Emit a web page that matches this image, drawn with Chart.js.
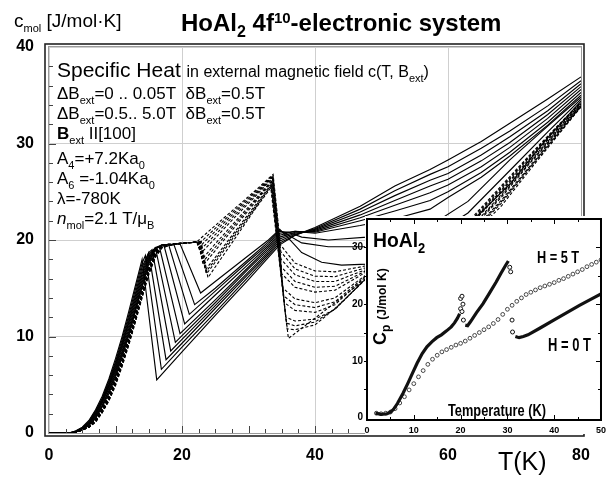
<!DOCTYPE html>
<html><head><meta charset="utf-8">
<script src="https://cdn.jsdelivr.net/npm/chart.js@4.4.1/dist/chart.umd.min.js"></script>
<style>
html,body{margin:0;padding:0;background:#fff;}
#wrap{position:relative;width:611px;height:477px;overflow:hidden;font-family:"Liberation Sans",Arial,Helvetica,sans-serif;color:#000;}
#main{position:absolute;left:0;top:0;}
#insetBox{position:absolute;left:330px;top:205px;width:281px;height:245px;}
.t{position:absolute;white-space:nowrap;line-height:1;}
.s{position:relative;top:5px;font-size:11px;}
.b{font-weight:bold;}
.cond{transform-origin:left top;}
</style></head>
<body><div id="wrap">
<canvas id="main" width="611" height="477"></canvas>

<div class="t" style="left:14px;top:11px;font-size:19px">c<span class="s" style="font-size:11px;top:5px">mol</span> [J/mol·K]</div>
<div class="t b" style="left:181px;top:11px;font-size:24px">HoAl<span style="font-size:16px;position:relative;top:6px">2</span> 4f<span style="font-size:15px;position:relative;top:-8px">10</span>-electronic system</div>

<div class="t" style="left:57px;top:59px;font-size:21px">Specific Heat <span style="font-size:16px">in external magnetic field c(T, B<span class="s">ext</span>)</span></div>
<div class="t" style="left:57px;top:85px;font-size:17px">ΔB<span class="s">ext</span>=0 .. 0.05T&nbsp; δB<span class="s">ext</span>=0.5T</div>
<div class="t" style="left:57px;top:105px;font-size:17px">ΔB<span class="s">ext</span>=0.5.. 5.0T&nbsp; δB<span class="s">ext</span>=0.5T</div>
<div class="t" style="left:57px;top:125px;font-size:17px"><b>B</b><span class="s">ext</span> II[100]</div>
<div class="t" style="left:57px;top:150px;font-size:17px">A<span class="s">4</span>=+7.2Ka<span class="s">0</span></div>
<div class="t" style="left:57px;top:170px;font-size:17px">A<span class="s">6</span> =-1.04Ka<span class="s">0</span></div>
<div class="t" style="left:57px;top:190px;font-size:17px">λ=-780K</div>
<div class="t" style="left:57px;top:210px;font-size:17px"><i>n</i><span class="s">mol</span>=2.1 T/μ<span class="s">B</span></div>
<div class="t" style="left:498px;top:449px;font-size:25px">T(K)</div>

<div id="insetBox"><canvas id="inset" width="281" height="245"></canvas></div>
<div class="t b cond" style="left:373px;top:229px;font-size:21px;transform:scaleX(0.92)">HoAl<span style="font-size:14px;position:relative;top:6px">2</span></div>
<div class="t b cond" style="left:537px;top:249px;font-size:17px;transform:scaleX(0.75)">H = 5 T</div>
<div class="t b cond" style="left:548px;top:336px;font-size:18px;transform:scaleX(0.72)">H = 0 T</div>
<div class="t b cond" style="left:448px;top:403px;font-size:16px;transform:scaleX(0.8)">Temperature (K)</div>
<div class="t b" style="left:371px;top:345px;transform:rotate(-90deg);transform-origin:left top;font-size:18px">C<span style="font-size:12px;position:relative;top:4px">p</span> <span style="font-size:12px">(J/mol K)</span></div>
</div>

<script>
// ---------- main chart data: [T (K), c_mol (J/mol K)] ----------
// solid curves, B_ext = 5.0 ... 0.5 T
const b50 = [[0,0],[3,0],[4,0.2],[5,0.6],[6,1.3],[7,2.4],[8,3.8],[9,5.6],[10,7.7],[11,10.0],[12,12.6],[13,15.3],[14,18.0],[16.2,5.5],[20,8.4],[25,12.2],[30,15.9],[33,18.2],[34.7,19.5],[37,20.5],[40,21.3],[46.8,23.5],[52,25.6],[57.3,27.3],[60,28.3],[65,30.2],[69.3,32.1],[75,34.6],[80,36.9]];
const b45 = [[0,0],[3,0],[4,0.2],[5,0.55],[6,1.2],[7,2.3],[8,3.6],[9,5.4],[10,7.4],[11,9.7],[12,12.2],[13,14.9],[14,17.6],[14.5,18.4],[16.9,6.6],[20,8.9],[25,12.5],[30,16.2],[33,18.4],[34.7,19.7],[37,20.5],[40,21.2],[46.8,23.2],[52,25.1],[57.3,26.8],[60,27.6],[65,29.5],[69.3,31.3],[75,33.9],[80,36.5]];
const b40 = [[0,0],[3,0],[4,0.15],[5,0.5],[6,1.1],[7,2.2],[8,3.5],[9,5.2],[10,7.2],[11,9.4],[12,11.9],[13,14.5],[14,17.2],[15,18.7],[17.6,7.6],[20,9.3],[25,12.9],[30,16.5],[33,18.6],[34.7,19.9],[37,20.6],[40,21.1],[46.8,22.9],[52,24.6],[57.3,26.2],[60,26.9],[65,28.8],[69.3,30.7],[75,33.4],[80,36.2]];
const b35 = [[0,0],[3,0],[4,0.15],[5,0.5],[6,1.1],[7,2.1],[8,3.4],[9,5.0],[10,7.0],[11,9.2],[12,11.6],[13,14.2],[14,16.8],[15,18.7],[15.5,19.0],[18.3,8.5],[20,9.7],[25,13.2],[30,16.7],[33,18.8],[34.7,20.1],[37,20.7],[40,21.0],[46.8,22.6],[52,24.1],[57.3,25.6],[60,26.3],[65,28.2],[69.3,30.1],[75,33.0],[80,35.9]];
const b30 = [[0,0],[3,0],[4,0.1],[5,0.45],[6,1.0],[7,2.0],[8,3.3],[9,4.9],[10,6.8],[11,9.0],[12,11.4],[13,13.9],[14,16.5],[15,18.5],[16,19.2],[19.0,9.4],[20,10.1],[25,13.5],[30,17.0],[33,19.0],[34.7,20.3],[37,20.8],[40,20.9],[46.8,22.3],[52,23.6],[57.3,24.9],[60,25.7],[65,27.6],[69.3,29.6],[75,32.6],[80,35.6]];
const b25 = [[0,0],[3,0],[4,0.1],[5,0.4],[6,1.0],[7,1.9],[8,3.2],[9,4.8],[10,6.6],[11,8.8],[12,11.1],[13,13.6],[14,16.2],[15,18.3],[16,19.2],[16.6,19.3],[19.7,10.3],[25,13.8],[30,17.2],[33,19.2],[34.7,20.5],[37,20.9],[40,20.8],[46.8,22.0],[52,23.0],[57.3,24.1],[60,25.0],[65,27.0],[69.3,29.1],[75,32.2],[80,35.3]];
const b20 = [[0,0],[3,0],[4,0.1],[5,0.4],[6,0.9],[7,1.8],[8,3.1],[9,4.6],[10,6.4],[11,8.5],[12,10.8],[13,13.3],[14,15.9],[15,18.1],[16,19.2],[17.3,19.4],[20.4,11.3],[25,14.3],[30,17.5],[33,19.4],[34.7,20.7],[37,20.9],[40,20.7],[46.8,21.5],[52,22.2],[57.3,23.2],[60,24.4],[65,26.5],[69.3,28.7],[75,31.9],[80,35.0]];
const b15 = [[0,0],[3,0],[4,0.1],[5,0.35],[6,0.9],[7,1.7],[8,2.9],[9,4.4],[10,6.2],[11,8.3],[12,10.5],[13,13.0],[14,15.6],[15,17.9],[16,19.2],[17,19.5],[18.0,19.5],[21.1,12.3],[25,14.7],[30,17.8],[33,19.6],[34.7,20.9],[36,20.8],[38,20.3],[42,20.0],[47.8,20.3],[53,20.8],[58,21.8],[63,24.0],[69.3,28.3],[75,31.8],[80,34.8]];
const b10 = [[0,0],[3,0],[4,0.1],[5,0.35],[6,0.8],[7,1.6],[8,2.8],[9,4.3],[10,6.0],[11,8.1],[12,10.3],[13,12.8],[14,15.3],[15,17.7],[16,19.1],[17,19.5],[18.8,19.5],[21.9,13.3],[25,15.0],[30,18.0],[33,19.8],[34.7,21.0],[36,20.5],[38,19.7],[42,19.3],[47.8,19.3],[53,19.6],[58,20.6],[63,22.8],[69.3,27.2],[75,31.2],[80,34.6]];
const b05 = [[0,0],[3,0],[4,0.1],[5,0.3],[6,0.8],[7,1.5],[8,2.7],[9,4.1],[10,5.8],[11,7.9],[12,10.1],[13,12.6],[14,15.1],[15,17.5],[16,19.0],[17,19.5],[19.7,19.6],[22.8,14.5],[25,15.7],[30,18.4],[33,20.0],[34.7,21.1],[36,20.2],[38,18.7],[41,17.7],[44,17.4],[47.8,17.5],[53,18.0],[58,19.3],[63,21.5],[69.3,25.8],[75,30.6],[80,34.4]];
// dashed curves, small fields
const f1 = [[0,0],[3,0],[4,0.1],[5,0.3],[6,0.7],[7,1.4],[8,2.5],[9,3.9],[10,5.6],[11,7.6],[12,9.8],[13,12.3],[14,14.8],[15,17.2],[16,18.9],[17,19.5],[19,19.6],[22.2,19.8],[25,21.5],[28,23.3],[31,25.1],[33.7,26.8],[34.8,19.5],[37,17.6],[40,16.8],[43,16.7],[47.5,17.3],[52,17.9],[56,19.0],[60,20.4],[64,22.6],[68,25.6],[72,28.6],[76,31.5],[80,34.3]];
const f1b = [[0,0],[3,0],[4,0.1],[5,0.3],[6,0.7],[7,1.4],[8,2.5],[9,3.9],[10,5.6],[11,7.6],[12,9.8],[13,12.2],[14,14.7],[15,17.1],[16,18.9],[17,19.5],[19,19.6],[22.25,19.8],[22.35,19.5],[25,21.2],[28,23.1],[31,24.95],[33.68,26.7],[34.85,18.8],[37,17.0],[40,16.25],[43,16.2],[47.5,17.1],[52,17.75],[56,18.85],[60,20.3],[64,22.45],[68,25.45],[72,28.5],[76,31.4],[80,34.25]];
const f2 = [[0,0],[3,0],[4,0.1],[5,0.3],[6,0.7],[7,1.4],[8,2.4],[9,3.8],[10,5.5],[11,7.5],[12,9.7],[13,12.1],[14,14.6],[15,17.0],[16,18.8],[17,19.5],[19,19.6],[22.3,19.8],[22.5,19.2],[25,20.9],[28,22.9],[31,24.8],[33.65,26.6],[34.9,18.0],[37,16.4],[40,15.7],[43,15.7],[47.5,16.9],[52,17.6],[56,18.7],[60,20.2],[64,22.3],[68,25.3],[72,28.4],[76,31.3],[80,34.2]];
const f2b = [[0,0],[3,0],[4,0.1],[5,0.3],[6,0.7],[7,1.4],[8,2.4],[9,3.8],[10,5.5],[11,7.5],[12,9.7],[13,12.1],[14,14.6],[15,17.0],[16,18.8],[17,19.5],[19,19.6],[22.35,19.8],[22.65,18.9],[25,20.55],[28,22.65],[31,24.65],[33.62,26.5],[34.95,17.2],[37,15.7],[40,15.1],[43,15.2],[47.5,16.75],[52,17.45],[56,18.55],[60,20.1],[64,22.15],[68,25.15],[72,28.25],[76,31.2],[80,34.15]];
const f3 = [[0,0],[3,0],[4,0.1],[5,0.3],[6,0.7],[7,1.3],[8,2.4],[9,3.7],[10,5.4],[11,7.4],[12,9.6],[13,12.0],[14,14.5],[15,16.9],[16,18.7],[17,19.4],[19,19.6],[22.4,19.8],[22.8,18.6],[25,20.2],[28,22.4],[31,24.5],[33.6,26.4],[35.0,16.5],[37,15.1],[40,14.6],[43,14.8],[47.5,16.6],[52,17.3],[56,18.4],[60,20.0],[64,22.0],[68,25.0],[72,28.1],[76,31.1],[80,34.1]];
const f4 = [[0,0],[3,0],[4,0.1],[5,0.3],[6,0.6],[7,1.3],[8,2.3],[9,3.6],[10,5.3],[11,7.3],[12,9.5],[13,11.9],[14,14.4],[15,16.8],[16,18.6],[17,19.4],[19,19.6],[22.5,19.8],[23.0,18.0],[25,19.6],[28,21.9],[31,24.2],[33.55,26.2],[35.2,15.0],[37,13.9],[40,13.5],[43,14.0],[47.5,16.3],[52,17.0],[56,18.1],[60,19.7],[64,21.7],[68,24.7],[72,27.9],[76,31.0],[80,34.0]];
const f4b = [[0,0],[3,0],[4,0.1],[5,0.3],[6,0.6],[7,1.3],[8,2.3],[9,3.6],[10,5.3],[11,7.3],[12,9.5],[13,11.9],[14,14.4],[15,16.8],[16,18.6],[17,19.4],[19,19.6],[22.55,19.8],[23.1,17.7],[25,19.25],[28,21.65],[31,24.05],[33.52,26.1],[35.3,14.2],[37,13.3],[40,13.0],[43,13.6],[47.5,16.2],[52,16.9],[56,17.95],[60,19.6],[64,21.6],[68,24.55],[72,27.8],[76,30.9],[80,33.95]];
const f5 = [[0,0],[3,0],[4,0.1],[5,0.3],[6,0.6],[7,1.2],[8,2.2],[9,3.5],[10,5.2],[11,7.2],[12,9.4],[13,11.8],[14,14.3],[15,16.7],[16,18.5],[17,19.3],[19,19.6],[22.6,19.8],[23.2,17.4],[25,18.9],[28,21.4],[31,23.9],[33.5,26.0],[35.4,13.5],[37,12.7],[40,12.5],[43,13.3],[47.5,16.1],[52,16.8],[56,17.8],[60,19.5],[64,21.5],[68,24.4],[72,27.7],[76,30.8],[80,33.9]];
const f6 = [[0,0],[3,0],[4,0.1],[5,0.3],[6,0.6],[7,1.2],[8,2.2],[9,3.4],[10,5.1],[11,7.1],[12,9.3],[13,11.7],[14,14.2],[15,16.6],[16,18.4],[17,19.3],[19,19.6],[22.7,19.8],[23.5,16.9],[25,18.2],[28,20.9],[31,23.6],[33.45,25.8],[35.6,12.0],[37,11.6],[40,11.8],[43,12.8],[47.5,15.9],[52,16.6],[56,17.5],[60,19.3],[64,21.2],[68,24.1],[72,27.4],[76,30.7],[80,33.9]];
const f6b = [[0,0],[3,0],[4,0.1],[5,0.3],[6,0.6],[7,1.2],[8,2.2],[9,3.4],[10,5.1],[11,7.1],[12,9.3],[13,11.7],[14,14.2],[15,16.6],[16,18.4],[17,19.3],[19,19.6],[22.75,19.8],[23.6,16.7],[25,17.95],[28,20.7],[31,23.45],[33.42,25.7],[35.7,11.4],[37,11.1],[40,11.5],[43,12.85],[47.5,15.9],[52,16.5],[56,17.4],[60,19.2],[64,21.1],[68,23.95],[72,27.3],[76,30.6],[80,33.85]];
const f7 = [[0,0],[3,0],[4,0.1],[5,0.3],[6,0.6],[7,1.2],[8,2.1],[9,3.4],[10,5.0],[11,7.0],[12,9.2],[13,11.6],[14,14.1],[15,16.5],[16,18.3],[17,19.2],[19,19.6],[22.8,19.8],[23.7,16.5],[25,17.7],[28,20.5],[31,23.3],[33.4,25.6],[35.8,10.8],[37,10.7],[40,11.2],[43,12.9],[47.5,15.85],[52,16.4],[56,17.3],[60,19.1],[64,21.0],[68,23.8],[72,27.2],[76,30.5],[80,33.8]];
const f8 = [[0,0],[3,0],[4,0.1],[5,0.3],[6,0.6],[7,1.1],[8,2.1],[9,3.3],[10,4.9],[11,6.9],[12,9.1],[13,11.5],[14,14.0],[15,16.4],[16,18.2],[17,19.2],[19,19.6],[22.9,19.8],[23.9,16.1],[25,17.2],[28,20.2],[31,23.2],[33.35,25.4],[36.0,9.8],[40,11.9],[43,13.5],[47.5,15.9],[52,16.2],[56,17.0],[60,18.9],[64,20.8],[68,23.5],[72,27.0],[76,30.4],[80,33.8]];

const solidCurves = [b50,b45,b40,b35,b30,b25,b20,b15,b10,b05];
const dashedCurves = [f1,f1b,f2,f2b,f3,f4,f4b,f5,f6,f6b,f7,f8];
const mainXTicks = [0,20,40,60,80];
const mainYTicks = [0,10,20,30,40];

// ---------- inset data (measured HoAl2) ----------
const h0Low  = [[1.8,0.8],[3,0.6],[4.3,0.7],[5,1.0],[5.6,1.4],[6.5,2.5],[7.7,4.3],[8.7,6.0],[9.7,7.8],[10.7,9.6],[11.8,11.3],[12.8,12.5],[13.9,13.4],[14.9,14.1],[15.9,14.6],[17,15.3],[18,16.0],[18.7,16.7],[19.3,17.5],[19.8,18.3]];
const h0Mid  = [[21,16.3],[21.5,16.2],[22.1,16.9],[23.4,18.5],[24.8,20.1],[26.2,22.0],[27.6,23.9],[28.6,25.4],[29.6,26.8],[30.2,27.6]];
const h0High = [[31.7,14.3],[32.5,14.1],[33.4,14.3],[34.4,14.6],[37,15.8],[39.9,17.2],[42.7,18.5],[45.4,19.8],[47.7,20.8],[50,21.8]];
const h0Jumps = [[20.0,19.2],[20.0,21.0],[20.3,21.4],[20.5,20.0],[20.3,18.7],[20.6,17.2],[30.5,26.5],[30.7,25.7],[31.0,17.2],[31.1,15.1]];
const h5 = [[2,0.8],[3,0.7],[4,0.8],[5,1.0],[6,1.6],[7,2.6],[8,3.7],[9,4.9],[10,6.0],[11,7.2],[12,8.3],[13,9.4],[14,10.3],[15,11.0],[16,11.6],[17,12.0],[18,12.4],[19,12.8],[20,13.1],[21,13.5],[22,14.0],[23,14.5],[24,15.0],[25,15.5],[26,16.0],[27,16.6],[28,17.3],[29,18.2],[30,19.1],[31,19.8],[32,20.5],[33,21.1],[34,21.7],[35,22.1],[36,22.5],[37,22.9],[38,23.2],[39,23.5],[40,23.8],[41,24.2],[42,24.5],[43,24.9],[44,25.3],[45,25.7],[46,26.1],[47,26.6],[48,27.0],[49,27.4],[50,27.8]];
const insetXTicks = [0,10,20,30,40,50];
const insetYTicks = [0,10,20,30];

const FONT = "'Liberation Sans', Arial, Helvetica, sans-serif";
const pts = a => a.map(p => ({x:p[0], y:p[1]}));

const mainDatasets = [];
dashedCurves.forEach(c => mainDatasets.push({data:pts(c), showLine:true, pointRadius:0, borderColor:'#000', borderWidth:1.1, borderDash:[3,2], tension:0}));
solidCurves.forEach(c => mainDatasets.push({data:pts(c), showLine:true, pointRadius:0, borderColor:'#000', borderWidth:1.15, tension:0}));

const mainDeco = {
  id:'mainDeco',
  afterDraw(chart){
    const {ctx, chartArea:a, scales:{x,y}} = chart;
    ctx.save();
    ctx.strokeStyle='#444'; ctx.lineWidth=1;
    for (let i=1;i<32;i++){ const v=i*2.5; const px=Math.round(x.getPixelForValue(v))+0.5; const len=(i%4===0)?7:4;
      ctx.beginPath(); ctx.moveTo(px,a.bottom); ctx.lineTo(px,a.bottom-len); ctx.stroke(); }
    for (let i=1;i<20;i++){ const v=i*2; const py=Math.round(y.getPixelForValue(v))+0.5; const len=(i%5===0)?7:4;
      ctx.beginPath(); ctx.moveTo(a.left,py); ctx.lineTo(a.left+len,py); ctx.stroke(); }
    ctx.strokeStyle='#9a9a9a'; ctx.lineWidth=1;
    ctx.strokeRect(a.left-0.5, a.top-0.5, a.right-a.left+1, a.bottom-a.top+1);
    ctx.strokeStyle='#222'; ctx.lineWidth=1.6;
    ctx.strokeRect(a.left-4, a.top-3, a.right-a.left+7, a.bottom-a.top+6);
    ctx.restore();
  }
};

new Chart(document.getElementById('main'), {
  type:'scatter',
  data:{datasets:mainDatasets},
  options:{
    responsive:false, animation:false, events:[],
    layout:{padding:{left:0,right:30,top:47,bottom:0}},
    plugins:{legend:{display:false}, tooltip:{enabled:false}},
    scales:{
      x:{type:'linear', min:0, max:80, afterFit(s){s.height=44;},
         afterBuildTicks(s){s.ticks = mainXTicks.map(v=>({value:v}));},
         ticks:{color:'#000', padding:13, font:{family:FONT, size:16, weight:'bold'}},
         grid:{color:'#cfcfcf', lineWidth:1, drawTicks:false}, border:{display:false}},
      y:{type:'linear', min:0, max:40, afterFit(s){s.width=49;},
         afterBuildTicks(s){s.ticks = mainYTicks.map(v=>({value:v}));},
         ticks:{color:'#000', padding:15, font:{family:FONT, size:16, weight:'bold'}},
         grid:{color:'#cfcfcf', lineWidth:1, drawTicks:false}, border:{display:false}}
    }
  },
  plugins:[mainDeco]
});

const insetDeco = {
  id:'insetDeco',
  beforeDraw(chart){
    const {ctx, chartArea:a, width} = chart;
    ctx.save(); ctx.fillStyle='#fff';
    ctx.fillRect(a.left-2, a.top-3, width-(a.left-2), 229-(a.top-3));
    ctx.restore();
  },
  afterDraw(chart){
    const {ctx, chartArea:a, scales:{x,y}} = chart;
    ctx.save(); ctx.strokeStyle='#000'; ctx.lineWidth=1;
    for (let i=1;i<10;i++){ const px=Math.round(x.getPixelForValue(i*5))+0.5; const len=(i%2===0)?5:3;
      ctx.beginPath(); ctx.moveTo(px,a.bottom); ctx.lineTo(px,a.bottom-len); ctx.moveTo(px,a.top); ctx.lineTo(px,a.top+len); ctx.stroke(); }
    for (let i=1;i<7;i++){ const py=Math.round(y.getPixelForValue(i*5))+0.5; const len=(i%2===0)?5:3;
      ctx.beginPath(); ctx.moveTo(a.left,py); ctx.lineTo(a.left-3,py); ctx.moveTo(a.right,py); ctx.lineTo(a.right-len,py); ctx.stroke(); }
    ctx.lineWidth=2; ctx.strokeRect(a.left, a.top, a.right-a.left, a.bottom-a.top);
    ctx.restore();
  }
};

new Chart(document.getElementById('inset'), {
  type:'scatter',
  data:{datasets:[
    {data:pts(h0Low), showLine:true, pointRadius:0, borderColor:'#111', borderWidth:3.2},
    {data:pts(h0Mid), showLine:true, pointRadius:0, borderColor:'#111', borderWidth:3.2},
    {data:pts(h0High), showLine:true, pointRadius:0, borderColor:'#111', borderWidth:3.2},
    {data:pts(h0Jumps), showLine:false, pointRadius:2, borderColor:'#111', backgroundColor:'#fff', borderWidth:1},
    {data:pts(h5), showLine:false, pointRadius:1.9, borderColor:'#333', backgroundColor:'#fff', borderWidth:0.9}
  ]},
  options:{
    responsive:false, animation:false, events:[],
    layout:{padding:{left:0,right:3,top:14,bottom:0}},
    plugins:{legend:{display:false}, tooltip:{enabled:false}},
    scales:{
      x:{type:'linear', min:0, max:50, afterFit(s){s.height=30;},
         afterBuildTicks(s){s.ticks = insetXTicks.map(v=>({value:v}));},
         ticks:{color:'#000', padding:5, font:{family:FONT, size:9, weight:'bold'}},
         grid:{display:false, drawTicks:false}, border:{display:false}},
      y:{type:'linear', min:-0.4, max:35, afterFit(s){s.width=37;},
         afterBuildTicks(s){s.ticks = insetYTicks.map(v=>({value:v}));},
         ticks:{color:'#000', padding:4, font:{family:FONT, size:10, weight:'bold'}},
         grid:{display:false, drawTicks:false}, border:{display:false}}
    }
  },
  plugins:[insetDeco]
});
</script>
</body></html>
